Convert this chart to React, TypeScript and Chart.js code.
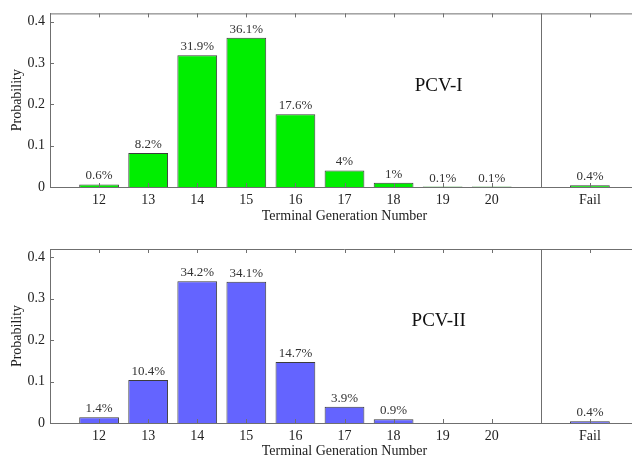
import React, { useEffect, useRef } from "react";
import { Chart, registerables } from "chart.js";

Chart.register(...registerables);

// Categories ('' entries are empty slots: left margin, separator, right margin)
const categories = ["", "12", "13", "14", "15", "16", "17", "18", "19", "20", "", "Fail", ""];
const pcv1Values = [null, 0.006, 0.082, 0.319, 0.361, 0.176, 0.04, 0.01, 0.001, 0.001, null, 0.004, null];
const pcv1Labels = ["", "0.6%", "8.2%", "31.9%", "36.1%", "17.6%", "4%", "1%", "0.1%", "0.1%", "", "0.4%", ""];
const pcv2Values = [null, 0.014, 0.104, 0.342, 0.341, 0.147, 0.039, 0.009, 0, 0, null, 0.004, null];
const pcv2Labels = ["", "1.4%", "10.4%", "34.2%", "34.1%", "14.7%", "3.9%", "0.9%", "", "", "", "0.4%", ""];
const yTicks = [0, 0.1, 0.2, 0.3, 0.4];
const separatorIndex = 10;

const FONT = "'Liberation Serif', 'Times New Roman', serif";
const AXIS = "#6f6f6f";

type Cfg = {
  values: (number | null)[];
  labels: string[];
  title: string;
  color: string;
  padTop: number;
  xHeight: number;
  height: number;
  titlePadBottom: number;
};

function makePlugin(cfg: Cfg) {
  return {
    id: "decor",
    afterDatasetsDraw(chart: any) {
      const ctx = chart.ctx;
      const { top, bottom, left, right } = chart.chartArea;
      const xs = chart.scales.x;
      const ys = chart.scales.y;
      ctx.save();
      ctx.strokeStyle = AXIS;
      ctx.lineWidth = 1;
      // top border
      ctx.beginPath();
      ctx.moveTo(left, top + 0.5);
      ctx.lineTo(right, top + 0.5);
      ctx.stroke();
      // separator
      const sx = Math.round(xs.getPixelForValue(separatorIndex)) + 0.5;
      ctx.beginPath();
      ctx.moveTo(sx, top);
      ctx.lineTo(sx, bottom);
      ctx.stroke();
      // inward x ticks
      categories.forEach((c, i) => {
        if (!c) return;
        const px = Math.round(xs.getPixelForValue(i)) + 0.5;
        ctx.beginPath();
        ctx.moveTo(px, top);
        ctx.lineTo(px, top + 4);
        ctx.moveTo(px, bottom);
        ctx.lineTo(px, bottom - 4);
        ctx.stroke();
      });
      // inward y ticks
      yTicks.forEach((v) => {
        const py = Math.round(ys.getPixelForValue(v)) + 0.5;
        ctx.beginPath();
        ctx.moveTo(left, py);
        ctx.lineTo(left + 4, py);
        ctx.stroke();
      });
      // value labels
      const meta = chart.getDatasetMeta(0);
      ctx.fillStyle = "#333";
      ctx.font = `13px ${FONT}`;
      ctx.textAlign = "center";
      ctx.textBaseline = "bottom";
      meta.data.forEach((bar: any, i: number) => {
        const lbl = cfg.labels[i];
        if (!lbl || cfg.values[i] == null) return;
        ctx.fillText(lbl, bar.x, bar.y - 2);
      });
      // panel label
      ctx.fillStyle = "#111";
      ctx.font = `19px ${FONT}`;
      ctx.textBaseline = "middle";
      ctx.fillText(cfg.title, xs.getPixelForValue(8) - 4, ys.getPixelForValue(0.245));
      ctx.restore();
    },
  };
}

function Panel({ cfg }: { cfg: Cfg }) {
  const ref = useRef<HTMLCanvasElement | null>(null);
  useEffect(() => {
    if (!ref.current) return;
    const chart = new Chart(ref.current, {
      type: "bar",
      data: {
        labels: categories,
        datasets: [
          {
            data: cfg.values as any,
            backgroundColor: cfg.color,
            borderColor: "#3c3c3c",
            borderWidth: 1,
            categoryPercentage: 1,
            barPercentage: 0.81,
          },
        ],
      },
      options: {
        responsive: false,
        animation: false,
        maintainAspectRatio: false,
        layout: { padding: { top: cfg.padTop, left: 0, right: 0, bottom: 0 } },
        plugins: { legend: { display: false }, tooltip: { enabled: false }, title: { display: false } },
        scales: {
          x: {
            type: "category",
            offset: false,
            grid: { display: false, drawTicks: false },
            border: { display: true, color: AXIS },
            ticks: {
              autoSkip: false,
              maxRotation: 0,
              padding: 5,
              color: "#222",
              font: { family: FONT, size: 14 },
            },
            title: {
              display: true,
              text: "Terminal Generation Number",
              color: "#222",
              font: { family: FONT, size: 14 },
              padding: { top: 0, bottom: cfg.titlePadBottom },
            },
            afterFit: (s: any) => {
              s.height = cfg.xHeight;
            },
          },
          y: {
            min: 0,
            max: 0.42,
            grid: { display: false, drawTicks: false },
            border: { display: true, color: AXIS },
            ticks: {
              stepSize: 0.1,
              includeBounds: false,
              padding: 5,
              color: "#222",
              font: { family: FONT, size: 14 },
            },
            title: {
              display: true,
              text: "Probability",
              color: "#222",
              font: { family: FONT, size: 14 },
              padding: { top: 9, bottom: 0 },
            },
            afterFit: (s: any) => {
              s.width = 50;
            },
          },
        },
      },
      plugins: [makePlugin(cfg)],
    } as any);
    return () => chart.destroy();
  }, []);
  return <canvas ref={ref} width={644} height={cfg.height} style={{ display: "block", width: 644, height: cfg.height }} />;
}

export default function App() {
  const top: Cfg = {
    values: pcv1Values,
    labels: pcv1Labels,
    title: "PCV-I",
    color: "#00ee00",
    padTop: 13,
    xHeight: 42,
    height: 229,
    titlePadBottom: 4.6,
  };
  const bottom: Cfg = {
    values: pcv2Values,
    labels: pcv2Labels,
    title: "PCV-II",
    color: "#6464ff",
    padTop: 20,
    xHeight: 37,
    height: 231,
    titlePadBottom: 0,
  };
  return (
    <div style={{ position: "fixed", left: 0, top: 0, width: 632, height: 458, overflow: "hidden", background: "#fff" }}>
      <Panel cfg={top} />
      <Panel cfg={bottom} />
    </div>
  );
}
